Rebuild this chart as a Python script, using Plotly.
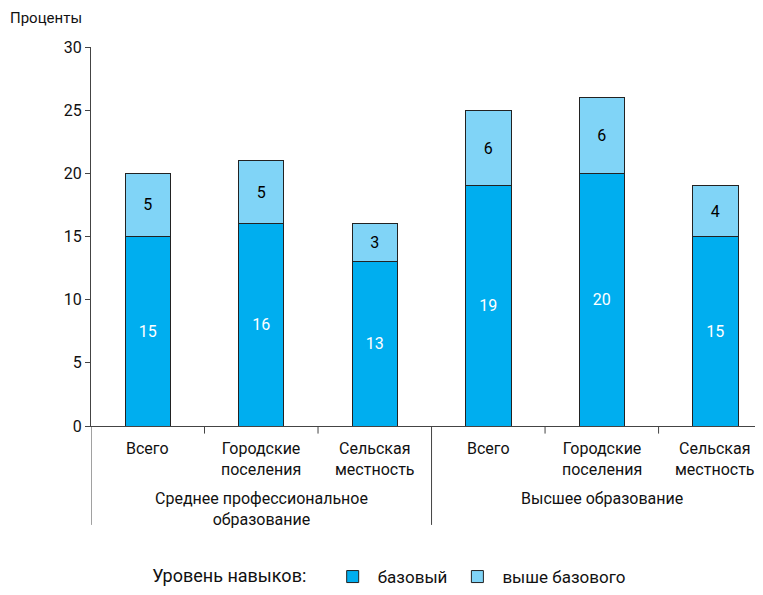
import plotly.graph_objects as go

categories = ["Всего", "Городские<br>поселения", "Сельская<br>местность",
              "Всего", "Городские<br>поселения", "Сельская<br>местность"]
groups = ["Среднее профессиональное<br>образование", "Высшее образование"]
base_vals = [15, 16, 13, 19, 20, 15]
above_vals = [5, 5, 3, 6, 6, 4]
y_ticks = [0, 5, 10, 15, 20, 25, 30]

FONT = "Roboto"
xs = list(range(len(categories)))

fig = go.Figure()
fig.add_trace(go.Bar(
    x=xs, y=base_vals, name="базовый", width=0.4,
    marker=dict(color="#00AEEF", line=dict(color="#222222", width=1)),
    text=[str(v) for v in base_vals], textposition="inside",
    insidetextanchor="middle", textfont=dict(color="white", size=16, family=FONT),
))
fig.add_trace(go.Bar(
    x=xs, y=above_vals, name="выше базового", width=0.4,
    marker=dict(color="#80D4F7", line=dict(color="#222222", width=1)),
    text=[str(v) for v in above_vals], textposition="inside",
    insidetextanchor="middle", textfont=dict(color="black", size=16, family=FONT),
))

# category labels
for i, c in enumerate(categories):
    fig.add_annotation(x=i, y=0, xref="x", yref="y", text=c, showarrow=False,
                       yanchor="top", yshift=-11, font=dict(size=16, family=FONT, color="#111"))
# group labels
for gi, g in enumerate(groups):
    fig.add_annotation(x=1 + 3 * gi, y=-0.162, xref="x", yref="paper", text=g,
                       showarrow=False, yanchor="top",
                       font=dict(size=16, family=FONT, color="#111"))

# tick dividers below axis
for b in [0.5, 1.5, 3.5, 4.5]:
    fig.add_shape(type="line", xref="x", yref="paper", x0=b, x1=b, y0=0, y1=-0.02,
                  line=dict(color="#444", width=1))
for b in [-0.5, 2.5]:
    fig.add_shape(type="line", xref="x", yref="paper", x0=b, x1=b, y0=0, y1=-0.261,
                  line=dict(color="#444", width=1))

fig.add_annotation(xref="paper", yref="paper", x=-0.123, y=1.077, text="Проценты",
                   showarrow=False, xanchor="left", yanchor="middle",
                   font=dict(size=15, family=FONT, color="#111"))

fig.update_layout(
    barmode="stack",
    width=755, height=587,
    margin=dict(l=83, r=0, t=39, b=169),
    plot_bgcolor="white", paper_bgcolor="white",
    font=dict(family=FONT, size=16, color="#111"),
    xaxis=dict(range=[-0.5, 5.42], showticklabels=False, showgrid=False,
               zeroline=False, showline=True, linecolor="#444", linewidth=1,
               ticks=""),
    yaxis=dict(range=[0, 30], tickvals=y_ticks, showgrid=False, zeroline=False,
               showline=True, linecolor="#444", linewidth=1, ticks="outside",
               ticklen=5, tickcolor="#444", tickfont=dict(size=16, family=FONT)),
    showlegend=True,
    legend=dict(orientation="h", x=0.088, y=-0.40, xanchor="left", yanchor="middle",
                traceorder="normal",
                title=dict(text="Уровень навыков:   ", font=dict(size=18, family=FONT)),
                font=dict(size=17, family=FONT), itemwidth=40),
)

fig.write_html("out.html")
